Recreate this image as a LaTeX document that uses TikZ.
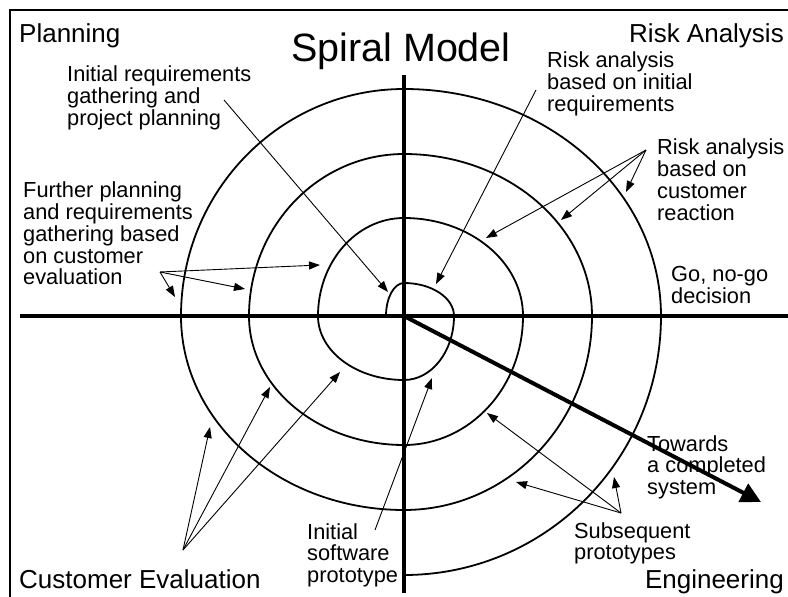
\documentclass[tikz,border=0pt]{standalone}
\usepackage{fontspec}
\setmainfont{Liberation Sans}
\usetikzlibrary{arrows.meta}
\begin{document}
\begin{tikzpicture}[x=1pt,y=-1pt,
  lbl/.style={inner sep=0pt,align=left,font=\fontsize{21.8}{21.7}\selectfont},
  corner/.style={inner sep=0pt,font=\fontsize{26}{28}\selectfont},
  axis/.style={line width=4pt},
  spiralline/.style={line width=1.8pt},
  ptr/.style={line width=0.9pt,-{Triangle[length=11pt,width=8pt]}},
  frame/.style={line width=2pt}]
\useasboundingbox (0,0) rectangle (788,597);
% frame
\coordinate (fa) at (10,597);
\coordinate (fb) at (10,10);
\coordinate (fc) at (788,10);
\draw[frame] (fa) -- (fb) -- (fc);
% axes
\coordinate (O) at (404,316);
\coordinate (xl) at (20,316);
\coordinate (xr) at (788,316);
\coordinate (yt) at (404,75);
\coordinate (yb) at (404,593);
\draw[axis] (xl) -- (xr);
\draw[axis] (yt) -- (yb);
% spiral
\draw[spiralline] (386,316)
  arc[start angle=180,end angle=90,x radius=18,y radius=-33]
  arc[start angle=90,end angle=0,x radius=50,y radius=-33]
  arc[start angle=0,end angle=-90,x radius=50,y radius=-64]
  arc[start angle=-90,end angle=-180,x radius=86,y radius=-64]
  arc[start angle=180,end angle=90,x radius=86,y radius=-98]
  arc[start angle=90,end angle=0,x radius=119,y radius=-98]
  arc[start angle=0,end angle=-90,x radius=119,y radius=-129]
  arc[start angle=-90,end angle=-180,x radius=155,y radius=-129]
  arc[start angle=180,end angle=90,x radius=155,y radius=-162]
  arc[start angle=90,end angle=0,x radius=188,y radius=-162]
  arc[start angle=0,end angle=-90,x radius=188,y radius=-194]
  arc[start angle=-90,end angle=-180,x radius=223,y radius=-194]
  arc[start angle=180,end angle=90,x radius=223,y radius=-227]
  arc[start angle=90,end angle=0,x radius=257,y radius=-227]
  arc[start angle=0,end angle=-90,x radius=257,y radius=-259];
% thick arrow
\coordinate (tip) at (761,502);
\draw[line width=4pt,-{Triangle[length=20pt,width=20pt]}] (O) -- (tip);
% title and corners
\node[inner sep=0pt,font=\fontsize{39.5}{44}\selectfont,anchor=base] (title) at (401,61) {Spiral Model};
\node[corner,anchor=north west] (plan) at (19,23) {Planning};
\node[corner,anchor=north east] (risk) at (784,23) {Risk Analysis};
\node[corner,anchor=base west] (cust) at (19,588) {Customer Evaluation};
\node[corner,anchor=base east] (eng) at (784,588) {Engineering};
% labels
\node[lbl,anchor=north west] (l1) at (67,66) {Initial requirements\\gathering and\\project planning};
\node[lbl,anchor=north west] (l2) at (23,182) {Further planning\\and requirements\\gathering based\\on customer\\evaluation};
\node[lbl,anchor=north west] (l3) at (547,52) {Risk analysis\\based on initial\\requirements};
\node[lbl,anchor=north west] (l4) at (657,139) {Risk analysis\\based on\\customer\\reaction};
\node[lbl,anchor=north west] (l5) at (671,266) {Go, no-go\\decision};
\node[lbl,anchor=north west] (l6) at (647,435) {Towards\\a completed\\system};
\node[lbl,anchor=north west] (l7) at (574,522) {Subsequent\\prototypes};
\node[lbl,anchor=north west] (l8) at (307,523) {Initial\\software\\prototype};
% pointer arrows
\coordinate (s1) at (224,100); \coordinate (t1) at (388,292);
\draw[ptr] (s1) -- (t1);
\coordinate (s2) at (160,272);
\coordinate (t2a) at (320,265); \coordinate (t2b) at (245,289); \coordinate (t2c) at (175,297);
\draw[ptr] (s2) -- (t2a);
\draw[ptr] (s2) -- (t2b);
\draw[ptr] (s2) -- (t2c);
\coordinate (s3) at (536,90); \coordinate (t3) at (436,284);
\draw[ptr] (s3) -- (t3);
\coordinate (s4) at (646,150);
\coordinate (t4a) at (486,238); \coordinate (t4b) at (561,220); \coordinate (t4c) at (626,192);
\draw[ptr] (s4) -- (t4a);
\draw[ptr] (s4) -- (t4b);
\draw[ptr] (s4) -- (t4c);
\coordinate (s5) at (183,550);
\coordinate (t5a) at (210,427); \coordinate (t5b) at (270,387); \coordinate (t5c) at (340,372);
\draw[ptr] (s5) -- (t5a);
\draw[ptr] (s5) -- (t5b);
\draw[ptr] (s5) -- (t5c);
\coordinate (s6) at (375,530); \coordinate (t6) at (432,378);
\draw[ptr] (s6) -- (t6);
\coordinate (s7) at (621,513);
\coordinate (t7a) at (487,413); \coordinate (t7b) at (516,482); \coordinate (t7c) at (614,477);
\draw[ptr] (s7) -- (t7a);
\draw[ptr] (s7) -- (t7b);
\draw[ptr] (s7) -- (t7c);
\end{tikzpicture}
\end{document}
